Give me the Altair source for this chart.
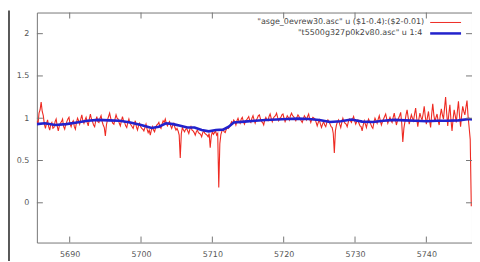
import altair as alt
import pandas as pd

# ---- data ----
red_wavelength = [
    5685.4, 5685.7, 5686.0, 5686.3, 5686.6, 5686.9, 5687.2, 5687.5, 5687.8, 5688.1,
    5688.4, 5688.7, 5689.0, 5689.3, 5689.6, 5689.9, 5690.2, 5690.5, 5690.8, 5691.1,
    5691.4, 5691.7, 5692.0, 5692.3, 5692.6, 5692.9, 5693.2, 5693.5, 5693.8, 5694.1,
    5694.4, 5694.7, 5695.0, 5695.3, 5695.6, 5695.9, 5696.2, 5696.5, 5696.8, 5697.1,
    5697.4, 5697.7, 5698.0, 5698.3, 5698.6, 5698.9, 5699.2, 5699.5, 5699.8, 5700.1,
    5700.4, 5700.7, 5701.0, 5701.3, 5701.6, 5701.9, 5702.2, 5702.5, 5702.8, 5703.1,
    5703.4, 5703.7, 5704.0, 5704.3, 5704.6, 5704.9, 5705.2, 5705.5, 5705.8, 5706.1,
    5706.4, 5706.7, 5707.0, 5707.3, 5707.6, 5707.9, 5708.2, 5708.5, 5708.8, 5709.1,
    5709.4, 5709.7, 5710.0, 5710.3, 5710.6, 5710.9, 5711.2, 5711.5, 5711.8, 5712.1,
    5712.4, 5712.7, 5713.0, 5713.3, 5713.6, 5713.9, 5714.2, 5714.5, 5714.8, 5715.1,
    5715.4, 5715.7, 5716.0, 5716.3, 5716.6, 5716.9, 5717.2, 5717.5, 5717.8, 5718.1,
    5718.4, 5718.7, 5719.0, 5719.3, 5719.6, 5719.9, 5720.2, 5720.5, 5720.8, 5721.1,
    5721.4, 5721.7, 5722.0, 5722.3, 5722.6, 5722.9, 5723.2, 5723.5, 5723.8, 5724.1,
    5724.4, 5724.7, 5725.0, 5725.3, 5725.6, 5725.9, 5726.2, 5726.5, 5726.8, 5727.1,
    5727.4, 5727.7, 5728.0, 5728.3, 5728.6, 5728.9, 5729.2, 5729.5, 5729.8, 5730.1,
    5730.4, 5730.7, 5731.0, 5731.3, 5731.6, 5731.9, 5732.2, 5732.5, 5732.8, 5733.1,
    5733.4, 5733.7, 5734.0, 5734.3, 5734.6, 5734.9, 5735.2, 5735.5, 5735.8, 5736.1,
    5736.4, 5736.7, 5737.0, 5737.3, 5737.6, 5737.9, 5738.2, 5738.5, 5738.8, 5739.1,
    5739.4, 5739.7, 5740.0, 5740.3, 5740.6, 5740.9, 5741.2, 5741.5, 5741.8, 5742.1,
    5742.4, 5742.7, 5743.0, 5743.3, 5743.6, 5743.9, 5744.2, 5744.5, 5744.8, 5745.1,
    5745.4, 5745.7, 5746.0, 5746.3,
]
red_flux = [
    0.97, 1.06, 1.19, 1.03, 0.88, 0.98, 0.86, 0.95, 0.89, 0.99,
    0.85, 0.94, 0.99, 0.87, 0.96, 1.01, 0.90, 0.97, 0.87, 1.00,
    0.93, 1.04, 0.94, 1.01, 0.91, 1.05, 0.96, 0.90, 1.02, 0.95,
    1.03, 0.92, 0.79, 0.98, 1.06, 0.97, 0.93, 1.04, 0.99, 0.91,
    1.02, 0.95, 0.89, 0.99, 0.92, 0.88, 0.97, 0.86, 0.94, 0.88,
    0.85, 0.93, 0.83, 0.80, 0.90, 0.84, 0.92, 0.95, 0.88, 0.97,
    0.99, 0.91, 0.96, 0.88, 0.94, 0.86, 0.85, 0.53, 0.89, 0.84,
    0.88, 0.82, 0.90, 0.85, 0.80, 0.86, 0.82, 0.78, 0.85, 0.81,
    0.78, 0.65, 0.84, 0.83, 0.80, 0.18, 0.81, 0.87, 0.83, 0.89,
    0.90, 0.96, 0.98, 0.92, 1.00, 0.94, 1.01, 0.93, 0.98, 1.02,
    0.95, 1.03, 0.94, 1.00, 1.04, 0.96, 0.92, 1.01, 0.97, 1.05,
    0.96, 1.02, 1.06, 0.97, 1.01, 1.05, 0.96, 1.03, 0.98, 1.06,
    1.02, 0.97, 1.04, 0.99, 0.95, 1.03, 0.98, 1.05, 0.95, 1.01,
    0.99, 0.91, 0.98, 0.89, 0.96, 0.90, 0.98, 0.93, 0.89, 0.59,
    0.92, 0.98, 0.89, 1.00, 0.94, 0.90, 0.99, 0.95, 1.02, 0.93,
    0.98, 0.91, 0.85, 0.97, 0.89, 0.99, 0.93, 0.88, 1.00, 0.94,
    1.03, 0.92, 0.99, 1.05, 0.94, 1.01, 0.95, 1.06, 0.92, 1.00,
    1.07, 0.72, 0.96, 1.10, 0.93, 1.04, 0.97, 1.12, 0.90, 1.06,
    0.98, 1.14, 0.93, 1.08, 0.89, 1.17, 0.96, 1.05, 0.92, 1.11,
    0.99, 1.25, 0.91, 1.16, 0.85, 1.10, 0.95, 1.20, 0.90, 1.14,
    1.04, 1.21, 0.89, -0.04,
]
# samples lying between the ones above
red_wavelength_mid = [
    5685.55, 5685.85, 5686.15, 5686.45, 5686.75, 5687.05, 5687.35, 5687.65, 5687.95, 5688.25,
    5688.55, 5688.85, 5689.15, 5689.45, 5689.75, 5690.05, 5690.35, 5690.65, 5690.95, 5691.25,
    5691.55, 5691.85, 5692.15, 5692.45, 5692.75, 5693.05, 5693.35, 5693.65, 5693.95, 5694.25,
    5694.55, 5694.85, 5695.15, 5695.45, 5695.75, 5696.05, 5696.35, 5696.65, 5696.95, 5697.25,
    5697.55, 5697.85, 5698.15, 5698.45, 5698.75, 5699.05, 5699.35, 5699.65, 5699.95, 5700.25,
    5700.55, 5700.85, 5701.15, 5701.45, 5701.75, 5702.05, 5702.35, 5702.65, 5702.95, 5703.25,
    5703.55, 5703.85, 5704.15, 5704.45, 5704.75, 5705.05, 5705.35, 5705.65, 5705.95, 5706.25,
    5706.55, 5706.85, 5707.15, 5707.45, 5707.75, 5708.05, 5708.35, 5708.65, 5708.95, 5709.25,
    5709.55, 5709.85, 5710.15, 5710.45, 5710.75, 5711.05, 5711.35, 5711.65, 5711.95, 5712.25,
    5712.55, 5712.85, 5713.15, 5713.45, 5713.75, 5714.05, 5714.35, 5714.65, 5714.95, 5715.25,
    5715.55, 5715.85, 5716.15, 5716.45, 5716.75, 5717.05, 5717.35, 5717.65, 5717.95, 5718.25,
    5718.55, 5718.85, 5719.15, 5719.45, 5719.75, 5720.05, 5720.35, 5720.65, 5720.95, 5721.25,
    5721.55, 5721.85, 5722.15, 5722.45, 5722.75, 5723.05, 5723.35, 5723.65, 5723.95, 5724.25,
    5724.55, 5724.85, 5725.15, 5725.45, 5725.75, 5726.05, 5726.35, 5726.65, 5726.95, 5727.25,
    5727.55, 5727.85, 5728.15, 5728.45, 5728.75, 5729.05, 5729.35, 5729.65, 5729.95, 5730.25,
    5730.55, 5730.85, 5731.15, 5731.45, 5731.75, 5732.05, 5732.35, 5732.65, 5732.95, 5733.25,
    5733.55, 5733.85, 5734.15, 5734.45, 5734.75, 5735.05, 5735.35, 5735.65, 5735.95, 5736.25,
    5736.55, 5736.85, 5737.15, 5737.45, 5737.75, 5738.05, 5738.35, 5738.65, 5738.95, 5739.25,
    5739.55, 5739.85, 5740.15, 5740.45, 5740.75, 5741.05, 5741.35, 5741.65, 5741.95, 5742.25,
    5742.55, 5742.85, 5743.15, 5743.45, 5743.75, 5744.05, 5744.35, 5744.65, 5744.95, 5745.25,
    5745.55, 5745.85, 5746.15,
]
red_flux_mid = [
    0.92, 1.10, 1.08, 0.93, 0.94, 0.90, 0.93, 0.88, 0.96, 0.91,
    0.91, 0.96, 0.90, 0.93, 0.99, 0.93, 0.95, 0.90, 0.95, 0.97,
    0.99, 0.97, 0.98, 0.95, 0.99, 0.99, 0.92, 0.97, 0.96, 1.00,
    0.96, 0.89, 0.92, 1.02, 1.00, 0.94, 0.99, 1.00, 0.94, 0.97,
    0.97, 0.91, 0.95, 0.94, 0.90, 0.93, 0.90, 0.91, 0.90, 0.87,
    0.89, 0.87, 0.86, 0.86, 0.86, 0.89, 0.93, 0.90, 0.93, 0.95,
    0.94, 0.94, 0.91, 0.92, 0.89, 0.88, 0.80, 0.82, 0.86, 0.87,
    0.85, 0.87, 0.86, 0.83, 0.84, 0.83, 0.81, 0.83, 0.82, 0.80,
    0.82, 0.79, 0.81, 0.85, 0.82, 0.70, 0.85, 0.84, 0.87, 0.88,
    0.93, 0.94, 0.96, 0.97, 0.96, 0.99, 0.96, 0.97, 1.00, 0.97,
    1.00, 0.98, 0.98, 1.03, 0.99, 0.95, 0.98, 0.98, 1.02, 1.00,
    1.00, 1.03, 1.01, 1.00, 1.04, 1.00, 0.99, 1.01, 1.03, 1.03,
    0.99, 1.01, 1.02, 0.97, 0.99, 1.01, 1.02, 0.99, 0.99, 1.00,
    0.95, 0.95, 0.93, 0.93, 0.92, 0.95, 0.96, 0.90, 0.82, 0.85,
    0.96, 0.93, 0.95, 0.96, 0.93, 0.95, 0.97, 0.99, 0.97, 0.96,
    0.94, 0.90, 0.92, 0.93, 0.95, 0.96, 0.90, 0.95, 0.97, 0.99,
    0.97, 0.96, 1.02, 0.99, 0.98, 0.97, 1.01, 0.99, 0.97, 1.03,
    0.94, 0.88, 1.04, 1.01, 0.99, 1.00, 1.05, 1.00, 0.99, 1.01,
    1.05, 1.02, 1.01, 0.97, 1.05, 1.04, 1.01, 0.97, 1.03, 1.04,
    1.12, 1.06, 1.05, 0.98, 0.99, 1.03, 1.08, 1.03, 1.04, 1.08,
    1.13, 1.02, 0.75,
]

blue_wavelength = [
    5685.4, 5686.5, 5688.0, 5689.5, 5691.0, 5692.5, 5694.0, 5695.5, 5697.0, 5698.5,
    5700.0, 5701.5, 5702.5, 5703.5, 5704.5, 5705.5, 5706.5, 5707.5, 5708.5, 5709.5,
    5710.5, 5711.5, 5712.3, 5713.0, 5714.5, 5716.0, 5717.5, 5719.0, 5720.5, 5722.0,
    5723.5, 5725.0, 5726.5, 5728.0, 5729.5, 5731.0, 5732.5, 5734.0, 5735.5, 5737.0,
    5738.5, 5740.0, 5741.5, 5743.0, 5744.5, 5746.0, 5746.4,
]
blue_flux = [
    0.93, 0.94, 0.92, 0.93, 0.95, 0.97, 0.98, 0.975, 0.97, 0.95,
    0.92, 0.885, 0.90, 0.94, 0.93, 0.91, 0.89, 0.89, 0.86, 0.845,
    0.86, 0.865, 0.90, 0.95, 0.96, 0.97, 0.98, 0.985, 0.99, 0.995,
    0.99, 0.98, 0.955, 0.965, 0.985, 0.96, 0.955, 0.97, 0.98, 0.975,
    0.97, 0.965, 0.97, 0.97, 0.975, 0.99, 0.985,
]

x_ticks = [5690, 5700, 5710, 5720, 5730, 5740]
y_ticks = [0, 0.5, 1, 1.5, 2]
legend_labels = ['"asge_0evrew30.asc" u ($1-0.4):($2-0.01)', '"t5500g327p0k2v80.asc" u 1:4']
x_domain = [5685.4, 5746.4]
y_domain = [-0.47, 2.25]

W, H = 437, 231
FONT = "DejaVu Sans"
LABEL_COLOR = "#555555"
TICK_COLOR = "#777777"
RED = "#ee2a22"
BLUE = "#2222cc"

red = pd.concat([
    pd.DataFrame({"wl": red_wavelength, "flux": red_flux}),
    pd.DataFrame({"wl": red_wavelength_mid, "flux": red_flux_mid}),
]).sort_values("wl")
blue = pd.DataFrame({"wl": blue_wavelength, "flux": blue_flux})
xt = pd.DataFrame({"wl": x_ticks})
yt = pd.DataFrame({"flux": y_ticks})
one = pd.DataFrame({"k": [0]})

xscale = alt.Scale(domain=x_domain, nice=False, zero=False)
yscale = alt.Scale(domain=y_domain, nice=False, zero=False)

xaxis = alt.Axis(values=x_ticks, format="d", ticks=False, domain=False, grid=False,
                 title=None, labelFont=FONT, labelFontSize=8, labelColor=LABEL_COLOR,
                 labelPadding=8)
yaxis = alt.Axis(values=y_ticks, format="~g", ticks=False, domain=False, grid=False,
                 title=None, labelFont=FONT, labelFontSize=8, labelColor=LABEL_COLOR,
                 labelPadding=8)

X = alt.X("wl:Q", scale=xscale, axis=xaxis)
Y = alt.Y("flux:Q", scale=yscale, axis=yaxis)

red_line = alt.Chart(red).mark_line(color=RED, strokeWidth=1.1, clip=True).encode(x=X, y=Y)
blue_line = alt.Chart(blue).mark_line(color=BLUE, strokeWidth=2.6, clip=True).encode(x=X, y=Y)

# inward (mirrored) gnuplot-style ticks
tick_bottom = alt.Chart(xt).mark_rule(color=TICK_COLOR, strokeWidth=1).encode(
    x=X, y=alt.value(H), y2=alt.value(H - 6))
tick_top = alt.Chart(xt).mark_rule(color=TICK_COLOR, strokeWidth=1).encode(
    x=X, y=alt.value(0), y2=alt.value(6))
tick_left = alt.Chart(yt).mark_rule(color=TICK_COLOR, strokeWidth=1).encode(
    y=Y, x=alt.value(0), x2=alt.value(6))
tick_right = alt.Chart(yt).mark_rule(color=TICK_COLOR, strokeWidth=1).encode(
    y=Y, x=alt.value(W), x2=alt.value(W - 6))

# key in the top right corner
leg_text1 = alt.Chart(one).mark_text(align="right", baseline="middle", font=FONT,
                                     fontSize=8, color="#444444",
                                     text=legend_labels[0]).encode(
    x=alt.value(389), y=alt.value(10))
leg_text2 = alt.Chart(one).mark_text(align="right", baseline="middle", font=FONT,
                                     fontSize=8, color="#444444",
                                     text=legend_labels[1]).encode(
    x=alt.value(387), y=alt.value(21))
leg_red = alt.Chart(one).mark_rule(color=RED, strokeWidth=1).encode(
    x=alt.value(395), x2=alt.value(426), y=alt.value(10))
leg_blue = alt.Chart(one).mark_rule(color=BLUE, strokeWidth=2.5).encode(
    x=alt.value(395), x2=alt.value(426), y=alt.value(21))

# dark edge of the photographed screen on the far left
edge = alt.Chart(one).mark_rule(color="#222222", strokeWidth=1.5).encode(
    x=alt.value(-28), y=alt.value(-2), y2=alt.value(252))

chart = alt.layer(
    red_line, blue_line, tick_bottom, tick_top, tick_left, tick_right,
    leg_text1, leg_text2, leg_red, leg_blue, edge,
).properties(
    width=W, height=H,
    autosize=alt.AutoSizeParams(type="none"),
    padding={"left": 29, "top": 4, "right": 0, "bottom": 18},
    background="white",
).configure_view(stroke="#777777", strokeWidth=1)

chart.save("out.html", embed_options={"renderer": "svg", "actions": False})
